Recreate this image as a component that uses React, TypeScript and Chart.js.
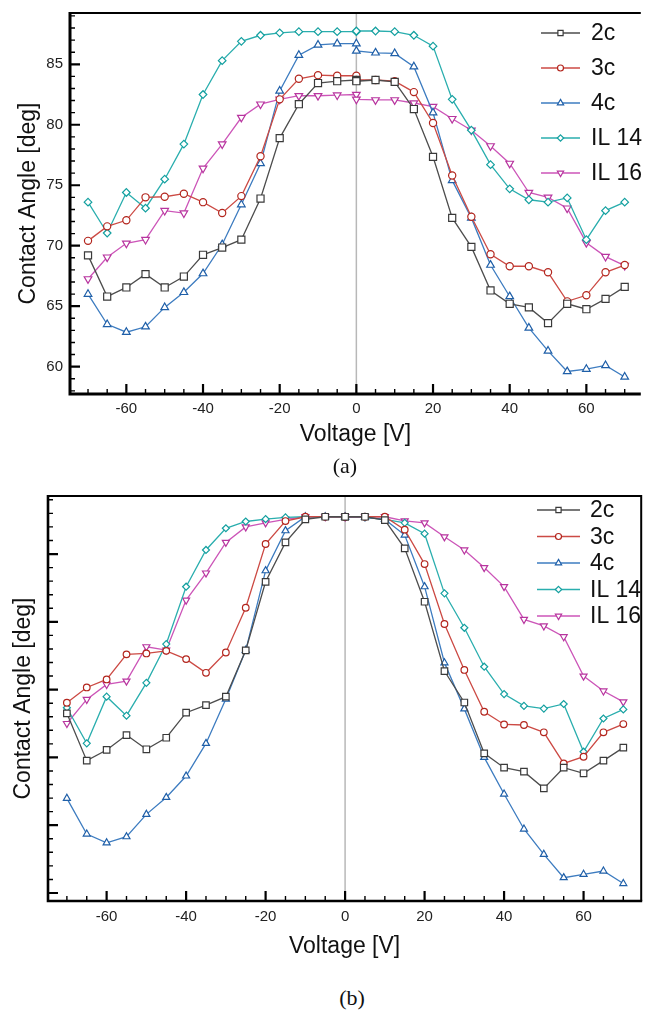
import React, { useEffect, useRef } from 'react';
import { Chart, registerables } from 'chart.js';

Chart.register(...registerables);

// ---------- data ----------
const voltages = [-70, -65, -60, -55, -50, -45, -40, -35, -30, -25, -20, -15, -10, -5, 0,
  0, 5, 10, 15, 20, 25, 30, 35, 40, 45, 50, 55, 60, 65, 70];
const seriesNames = ['2c', '3c', '4c', 'IL 14', 'IL 16'];

// panel (a) contact angle [deg]
const a2c = [69.2, 65.8, 66.55, 67.65, 66.55, 67.45, 69.25, 69.85, 70.5, 73.9, 78.9, 81.7, 83.45, 83.6, 83.7,
  83.6, 83.7, 83.55, 81.3, 77.35, 72.3, 69.9, 66.3, 65.2, 64.9, 63.6, 65.2, 64.75, 65.6, 66.6];
const a3c = [70.4, 71.6, 72.1, 74.0, 74.05, 74.3, 73.6, 72.7, 74.1, 77.4, 82.1, 83.8, 84.1, 84.05, 84.05,
  83.7, 83.7, 83.6, 82.7, 80.15, 75.8, 72.4, 69.3, 68.3, 68.3, 67.8, 65.4, 65.9, 67.8, 68.4];
const a4c = [66.0, 63.5, 62.85, 63.3, 64.9, 66.15, 67.7, 70.1, 73.4, 76.8, 82.8, 85.75, 86.6, 86.7, 86.7,
  86.1, 85.95, 85.9, 84.8, 81.0, 75.4, 72.3, 68.4, 65.8, 63.2, 61.3, 59.6, 59.8, 60.1, 59.15];
const aIL14 = [73.6, 71.05, 74.4, 73.1, 75.5, 78.4, 82.5, 85.3, 86.9, 87.4, 87.6, 87.7, 87.7, 87.7, 87.7,
  87.75, 87.75, 87.7, 87.4, 86.5, 82.1, 79.55, 76.7, 74.7, 73.8, 73.6, 73.95, 70.5, 72.9, 73.6];
const aIL16 = [67.25, 69.05, 70.2, 70.5, 72.9, 72.7, 76.4, 78.4, 80.6, 81.7, 82.1, 82.4, 82.4, 82.45, 82.5,
  82.1, 82.05, 82.05, 81.8, 81.5, 80.5, 79.55, 78.25, 76.8, 74.4, 74.0, 73.1, 70.25, 69.1, 68.35];

// panel (b) contact angle (unlabelled axis)
const b2c = [68.25, 64.76, 65.55, 66.65, 65.6, 66.45, 68.3, 68.86, 69.48, 72.9, 77.95, 80.86, 82.55, 82.75, 82.75,
  82.75, 82.75, 82.5, 80.42, 76.48, 71.37, 69.05, 65.3, 64.24, 63.95, 62.72, 64.24, 63.83, 64.76, 65.72];
const b3c = [69.03, 70.16, 70.75, 72.6, 72.67, 72.86, 72.25, 71.24, 72.74, 76.04, 80.74, 82.43, 82.75, 82.75, 82.75,
  82.75, 82.75, 82.75, 81.8, 79.26, 74.84, 71.45, 68.37, 67.43, 67.39, 66.85, 64.56, 65.05, 66.85, 67.46];
const b4c = [61.98, 59.35, 58.7, 59.15, 60.8, 62.05, 63.63, 66.03, 69.3, 72.9, 78.77, 81.72, 82.75, 82.75, 82.75,
  82.7, 82.7, 82.55, 81.4, 77.59, 71.98, 68.58, 65.0, 62.3, 59.72, 57.85, 56.13, 56.38, 56.62, 55.7];
const bIL14 = [68.66, 66.04, 69.48, 68.08, 70.5, 73.36, 77.59, 80.3, 81.9, 82.4, 82.58, 82.7, 82.75, 82.75, 82.75,
  82.75, 82.7, 82.55, 82.3, 81.5, 77.1, 74.56, 71.69, 69.67, 68.8, 68.6, 68.94, 65.42, 67.87, 68.54];
const bIL16 = [67.5, 69.28, 70.38, 70.63, 73.16, 72.92, 76.6, 78.6, 80.86, 82.0, 82.3, 82.55, 82.75, 82.75, 82.75,
  82.75, 82.75, 82.75, 82.45, 82.3, 81.27, 80.3, 79.0, 77.6, 75.18, 74.7, 73.9, 71.0, 69.9, 69.1];

// ticks
const xTickValues = [-60, -40, -20, 0, 20, 40, 60];
const yTickValuesA = [60, 65, 70, 75, 80, 85];
const yTickValuesB = [55, 60, 65, 70, 75, 80];
const xMinorStep = 5;
const yMinorStep = 1;

const xTitle = 'Voltage [V]';
const yTitle = 'Contact Angle [deg]';

// ---------- styles ----------
type Shape = 'square' | 'circle' | 'triangle' | 'diamond' | 'invtriangle';
const seriesStyle: { line: string; point: string; shape: Shape }[] = [
  { line: '#4d4d4d', point: '#3a3a3a', shape: 'square' },
  { line: '#cc4a44', point: '#b3261e', shape: 'circle' },
  { line: '#3d7cc0', point: '#1f5fa8', shape: 'triangle' },
  { line: '#2aaeae', point: '#14a0a0', shape: 'diamond' },
  { line: '#cc55b8', point: '#b8359f', shape: 'invtriangle' },
];

const FONT = '"Liberation Sans", Arial, Helvetica, sans-serif';

function chartPointStyle(shape: Shape, s: number) {
  switch (shape) {
    case 'square': return { pointStyle: 'rect', pointRadius: 5 * s, pointRotation: 0 };
    case 'circle': return { pointStyle: 'circle', pointRadius: 3.6 * s, pointRotation: 0 };
    case 'triangle': return { pointStyle: 'triangle', pointRadius: 4.4 * s, pointRotation: 0 };
    case 'diamond': return { pointStyle: 'rectRot', pointRadius: 3.8 * s, pointRotation: 0 };
    default: return { pointStyle: 'triangle', pointRadius: 4.4 * s, pointRotation: 180 };
  }
}

function drawMarker(ctx: CanvasRenderingContext2D, shape: Shape, x: number, y: number, color: string) {
  ctx.save();
  ctx.fillStyle = '#fff';
  ctx.strokeStyle = color;
  ctx.lineWidth = 1.2;
  ctx.beginPath();
  if (shape === 'square') {
    ctx.rect(x - 2.6, y - 2.6, 5.2, 5.2);
  } else if (shape === 'circle') {
    ctx.arc(x, y, 3, 0, Math.PI * 2);
  } else if (shape === 'triangle') {
    const r = 3.6;
    ctx.moveTo(x, y - r); ctx.lineTo(x + 0.866 * r, y + 0.5 * r); ctx.lineTo(x - 0.866 * r, y + 0.5 * r); ctx.closePath();
  } else if (shape === 'invtriangle') {
    const r = 3.6;
    ctx.moveTo(x, y + r); ctx.lineTo(x + 0.866 * r, y - 0.5 * r); ctx.lineTo(x - 0.866 * r, y - 0.5 * r); ctx.closePath();
  } else {
    const r = 3.2;
    ctx.moveTo(x, y - r); ctx.lineTo(x + r, y); ctx.lineTo(x, y + r); ctx.lineTo(x - r, y); ctx.closePath();
  }
  ctx.fill();
  ctx.stroke();
  ctx.restore();
}

// ---------- panels ----------
interface PanelSpec {
  id: string;
  series: number[][];
  width: number; height: number; top: number;
  area: { left: number; top: number; right: number; bottom: number };
  xRange: [number, number]; yRange: [number, number];
  yTicks: number[]; yLabels: boolean;
  axisW: number; topW: number; rightBorder: boolean;
  majorLen: number; minorLen: number;
  legend: { x1: number; x2: number; tx: number; y0: number; dy: number };
  xTitlePadBottom: number; yTitlePadTop: number; xTickPad: number;
  markerScale: number;
}

const panelA: PanelSpec = {
  id: 'a',
  series: [a2c, a3c, a4c, aIL14, aIL16],
  width: 647, height: 455, top: 0,
  area: { left: 70, top: 13, right: 647, bottom: 394 },
  xRange: [-74.7, 74.2], yRange: [57.74, 89.24],
  yTicks: yTickValuesA, yLabels: true,
  axisW: 3, topW: 2, rightBorder: false,
  majorLen: 10, minorLen: 5,
  legend: { x1: 541, x2: 580, tx: 591, y0: 33, dy: 35 },
  xTitlePadBottom: 8.5, yTitlePadTop: 17, xTickPad: 6,
  markerScale: 1,
};

const panelB: PanelSpec = {
  id: 'b',
  series: [b2c, b3c, b4c, bIL14, bIL16],
  width: 647, height: 490, top: 470,
  area: { left: 48, top: 26, right: 645, bottom: 431 },
  xRange: [-74.75, 74.5], yRange: [54.41, 84.28],
  yTicks: yTickValuesB, yLabels: false,
  axisW: 2.6, topW: 2, rightBorder: true,
  majorLen: 10, minorLen: 5,
  legend: { x1: 537, x2: 580, tx: 590, y0: 40, dy: 26.5 },
  xTitlePadBottom: 1.5, yTitlePadTop: 12, xTickPad: 7,
  markerScale: 0.92,
};

const framePlugin = {
  id: 'frame',
  beforeDatasetsDraw(chart: any) {
    const { ctx, chartArea } = chart;
    const x0 = chart.scales.x.getPixelForValue(0);
    ctx.save();
    ctx.strokeStyle = '#b8b8b8';
    ctx.lineWidth = 1.5;
    ctx.beginPath();
    ctx.moveTo(x0, chartArea.top);
    ctx.lineTo(x0, chartArea.bottom);
    ctx.stroke();
    ctx.restore();
  },
  afterDraw(chart: any, _args: any, opts: any) {
    const spec: PanelSpec = opts.spec;
    const { ctx, chartArea } = chart;
    const { left, right, top, bottom } = chartArea;
    const xs = chart.scales.x;
    const ys = chart.scales.y;
    ctx.save();
    ctx.strokeStyle = '#000';
    // minor ticks
    ctx.lineWidth = 1.4;
    ctx.beginPath();
    for (let v = Math.ceil(xs.min / xMinorStep) * xMinorStep; v <= xs.max; v += xMinorStep) {
      if (xTickValues.includes(v)) continue;
      const px = xs.getPixelForValue(v);
      ctx.moveTo(px, bottom); ctx.lineTo(px, bottom - spec.minorLen);
    }
    for (let v = Math.ceil(ys.min / yMinorStep) * yMinorStep; v <= ys.max; v += yMinorStep) {
      if (spec.yTicks.includes(v)) continue;
      const py = ys.getPixelForValue(v);
      ctx.moveTo(left, py); ctx.lineTo(left + spec.minorLen, py);
    }
    ctx.stroke();
    // major ticks
    ctx.lineWidth = 2.2;
    ctx.beginPath();
    xTickValues.forEach((v) => {
      const px = xs.getPixelForValue(v);
      ctx.moveTo(px, bottom); ctx.lineTo(px, bottom - spec.majorLen);
    });
    spec.yTicks.forEach((v) => {
      const py = ys.getPixelForValue(v);
      ctx.moveTo(left, py); ctx.lineTo(left + spec.majorLen, py);
    });
    ctx.stroke();
    // frame
    ctx.lineWidth = spec.topW;
    ctx.beginPath();
    ctx.moveTo(left, top); ctx.lineTo(right + (spec.rightBorder ? spec.topW / 2 : 0), top);
    if (spec.rightBorder) { ctx.moveTo(right, top); ctx.lineTo(right, bottom); }
    ctx.stroke();
    ctx.lineWidth = spec.axisW;
    ctx.beginPath();
    ctx.moveTo(left, top - spec.topW / 2); ctx.lineTo(left, bottom + spec.axisW / 2);
    ctx.moveTo(left - spec.axisW / 2, bottom); ctx.lineTo(right + (spec.rightBorder ? 1 : 0), bottom);
    ctx.stroke();
    ctx.restore();

    // legend
    const lg = spec.legend;
    seriesNames.forEach((name, i) => {
      const st = seriesStyle[i];
      const y = lg.y0 + i * lg.dy;
      ctx.save();
      ctx.strokeStyle = st.line;
      ctx.lineWidth = 1.4;
      ctx.beginPath();
      ctx.moveTo(lg.x1, y); ctx.lineTo(lg.x2, y);
      ctx.stroke();
      ctx.restore();
      drawMarker(ctx, st.shape, (lg.x1 + lg.x2) / 2, y, st.point);
      ctx.save();
      ctx.fillStyle = '#111';
      ctx.font = `23px ${FONT}`;
      ctx.textBaseline = 'middle';
      ctx.textAlign = 'left';
      ctx.fillText(name, lg.tx, y + 1);
      ctx.restore();
    });
  },
};

function buildConfig(spec: PanelSpec): any {
  const datasets = spec.series.map((vals, i) => {
    const st = seriesStyle[i];
    return {
      label: seriesNames[i],
      data: voltages.map((v, j) => ({ x: v, y: vals[j] })),
      borderColor: st.line,
      borderWidth: 1.3,
      backgroundColor: '#fff',
      pointBackgroundColor: '#fff',
      pointBorderColor: st.point,
      pointBorderWidth: 1.2,
      ...chartPointStyle(st.shape, spec.markerScale),
      tension: 0,
      fill: false,
    };
  });
  return {
    type: 'line',
    data: { datasets },
    plugins: [framePlugin],
    options: {
      animation: false,
      responsive: false,
      maintainAspectRatio: false,
      events: [],
      layout: { padding: { top: spec.area.top, left: 0, right: spec.width - spec.area.right, bottom: 0 } },
      plugins: {
        legend: { display: false },
        tooltip: { enabled: false },
        frame: { spec },
      },
      scales: {
        x: {
          type: 'linear',
          min: spec.xRange[0],
          max: spec.xRange[1],
          grid: { display: false, drawTicks: false },
          border: { display: false },
          ticks: {
            color: '#222',
            font: { family: FONT, size: 15, lineHeight: 1.2 },
            padding: spec.xTickPad,
            maxRotation: 0,
            autoSkip: false,
            callback: (v: number) => String(v),
          },
          afterBuildTicks: (s: any) => { s.ticks = xTickValues.map((v) => ({ value: v })); },
          afterFit: (s: any) => {
            s.height = spec.height - spec.area.bottom;
            s.paddingLeft = 0; s.paddingRight = 0; s.paddingTop = 0; s.paddingBottom = 0;
          },
          title: {
            display: true,
            text: xTitle,
            color: '#111',
            font: { family: FONT, size: 23, lineHeight: 1 },
            padding: { top: 0, bottom: spec.xTitlePadBottom },
          },
        },
        y: {
          type: 'linear',
          min: spec.yRange[0],
          max: spec.yRange[1],
          grid: { display: false, drawTicks: false },
          border: { display: false },
          ticks: {
            display: spec.yLabels,
            color: '#222',
            font: { family: FONT, size: 15, lineHeight: 1.2 },
            padding: 7,
            autoSkip: false,
            callback: (v: number) => String(v),
          },
          afterBuildTicks: (s: any) => { s.ticks = spec.yTicks.map((v) => ({ value: v })); },
          afterFit: (s: any) => {
            s.width = spec.area.left;
            s.paddingLeft = 0; s.paddingRight = 0; s.paddingTop = 0; s.paddingBottom = 0;
          },
          title: {
            display: true,
            text: yTitle,
            color: '#111',
            font: { family: FONT, size: 23, lineHeight: 1 },
            padding: { top: spec.yTitlePadTop, bottom: 0 },
          },
        },
      },
    },
  };
}

function Panel({ spec }: { spec: PanelSpec }) {
  const ref = useRef<HTMLCanvasElement>(null);
  useEffect(() => {
    const chart = new Chart(ref.current as HTMLCanvasElement, buildConfig(spec));
    return () => chart.destroy();
  }, [spec]);
  return (
    <canvas
      ref={ref}
      width={spec.width}
      height={spec.height}
      style={{ position: 'absolute', left: 0, top: spec.top, width: spec.width, height: spec.height, display: 'block' }}
    />
  );
}

const captionStyle: React.CSSProperties = {
  position: 'absolute',
  width: 80,
  textAlign: 'center',
  fontFamily: '"Liberation Serif", "Times New Roman", serif',
  fontSize: 22,
  lineHeight: '26px',
  color: '#111',
};

export default function App() {
  return (
    <div style={{ position: 'absolute', left: 0, top: 0, width: 647, height: 1012, overflow: 'hidden', background: '#fff' }}>
      <Panel spec={panelA} />
      <Panel spec={panelB} />
      <div style={{ ...captionStyle, left: 345 - 40, top: 466 - 13 }}>(a)</div>
      <div style={{ ...captionStyle, left: 352 - 40, top: 998 - 13 }}>(b)</div>
    </div>
  );
}
